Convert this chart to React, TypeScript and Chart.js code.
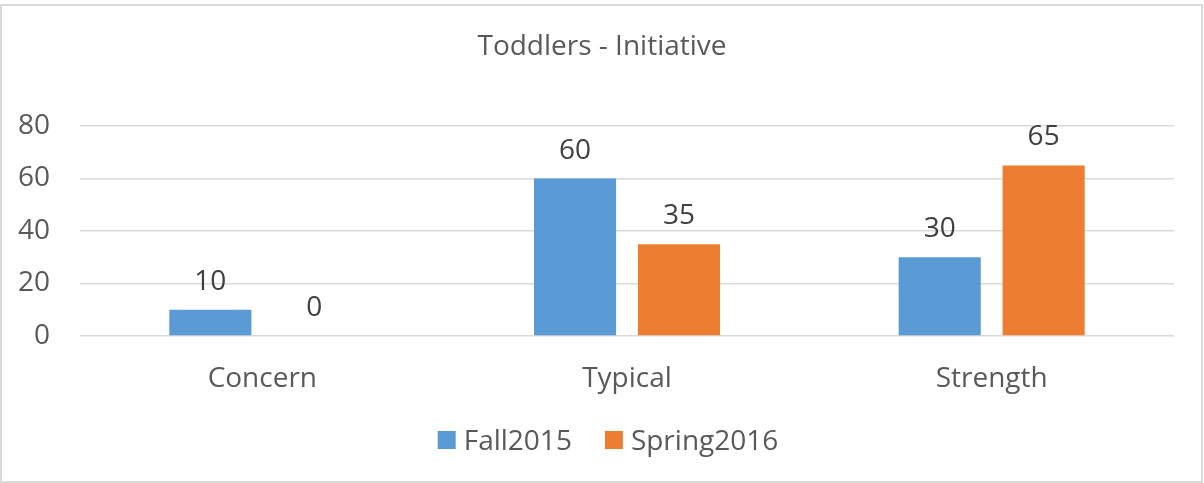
import React, { useEffect, useRef } from "react";
import { Chart, registerables } from "chart.js";

Chart.register(...registerables);

const categories = ["Concern", "Typical", "Strength"];
const fall2015 = [10, 60, 30];
const spring2016 = [0, 35, 65];
const seriesNames = ["Fall2015", "Spring2016"];
const yTicks = [0, 20, 40, 60, 80];
const titleText = "Toddlers - Initiative";

const FONT = "'Open Sans', 'DejaVu Sans', sans-serif";
const COLORS = ["#5B9BD5", "#ED7D31"];

const decorPlugin = {
  id: "decor",
  beforeDraw(chart: any) {
    const ctx = chart.ctx;
    ctx.save();
    ctx.fillStyle = "#ffffff";
    ctx.fillRect(0, 0, chart.width, chart.height);
    ctx.strokeStyle = "#D9D9D9";
    ctx.lineWidth = 2;
    ctx.strokeRect(1, 5, chart.width - 3, chart.height - 6);
    ctx.restore();
  },
  afterDraw(chart: any) {
    const ctx = chart.ctx;
    ctx.save();
    // title
    ctx.font = `28px ${FONT}`;
    ctx.fillStyle = "#595959";
    ctx.textAlign = "center";
    ctx.textBaseline = "alphabetic";
    ctx.fillText(titleText, chart.width / 2, 55);

    // data labels
    ctx.fillStyle = "#404040";
    chart.data.datasets.forEach((ds: any, i: number) => {
      const meta = chart.getDatasetMeta(i);
      meta.data.forEach((bar: any, j: number) => {
        ctx.fillText(String(ds.data[j]), bar.x, bar.y - 20);
      });
    });

    // legend
    ctx.font = `28px ${FONT}`;
    ctx.fillStyle = "#595959";
    ctx.textAlign = "left";
    const box = 18;
    const gap = 8;
    const itemGap = 33;
    const widths = chart.data.datasets.map((ds: any) => ctx.measureText(ds.label).width);
    const total =
      widths.reduce((a: number, w: number) => a + box + gap + w, 0) + itemGap * (widths.length - 1);
    let x = chart.width / 2 + 6 - total / 2;
    const cy = 440;
    chart.data.datasets.forEach((ds: any, i: number) => {
      ctx.fillStyle = ds.backgroundColor;
      ctx.fillRect(x, cy - box / 2, box, box);
      ctx.fillStyle = "#595959";
      ctx.fillText(ds.label, x + box + gap, cy + 10);
      x += box + gap + widths[i] + itemGap;
    });
    ctx.restore();
  },
};

export default function App() {
  const ref = useRef<HTMLCanvasElement | null>(null);

  useEffect(() => {
    document.body.style.margin = "0";
    const canvas = ref.current;
    if (!canvas) return;
    const chart = new Chart(canvas, {
      type: "bar",
      data: {
        labels: categories,
        datasets: [
          {
            label: seriesNames[0],
            data: fall2015,
            backgroundColor: COLORS[0],
            categoryPercentage: 0.57,
            barPercentage: 0.79,
          },
          {
            label: seriesNames[1],
            data: spring2016,
            backgroundColor: COLORS[1],
            categoryPercentage: 0.57,
            barPercentage: 0.79,
          },
        ],
      },
      options: {
        animation: false,
        responsive: false,
        devicePixelRatio: 1,
        layout: { padding: { top: 126, right: 30, bottom: 0, left: 0 } },
        plugins: {
          legend: { display: false },
          title: { display: false },
          tooltip: { enabled: false },
        },
        scales: {
          x: {
            grid: { display: false, drawTicks: false },
            border: { display: false },
            ticks: {
              color: "#595959",
              font: { family: FONT, size: 28 },
              padding: 26,
            },
            afterFit: (scale: any) => {
              scale.height = 147;
            },
          },
          y: {
            min: 0,
            max: 80,
            afterBuildTicks: (scale: any) => {
              scale.ticks = yTicks.map((v) => ({ value: v }));
            },
            grid: { color: "#D9D9D9", lineWidth: 1.5, drawTicks: false },
            border: { display: false },
            ticks: {
              color: "#595959",
              font: { family: FONT, size: 28 },
              padding: 30,
            },
            afterFit: (scale: any) => {
              scale.width = 80;
            },
          },
        },
      },
      plugins: [decorPlugin],
    });
    return () => chart.destroy();
  }, []);

  return (
    <div style={{ width: 1204, height: 483 }}>
      <canvas ref={ref} width={1204} height={483} style={{ display: "block" }} />
    </div>
  );
}
